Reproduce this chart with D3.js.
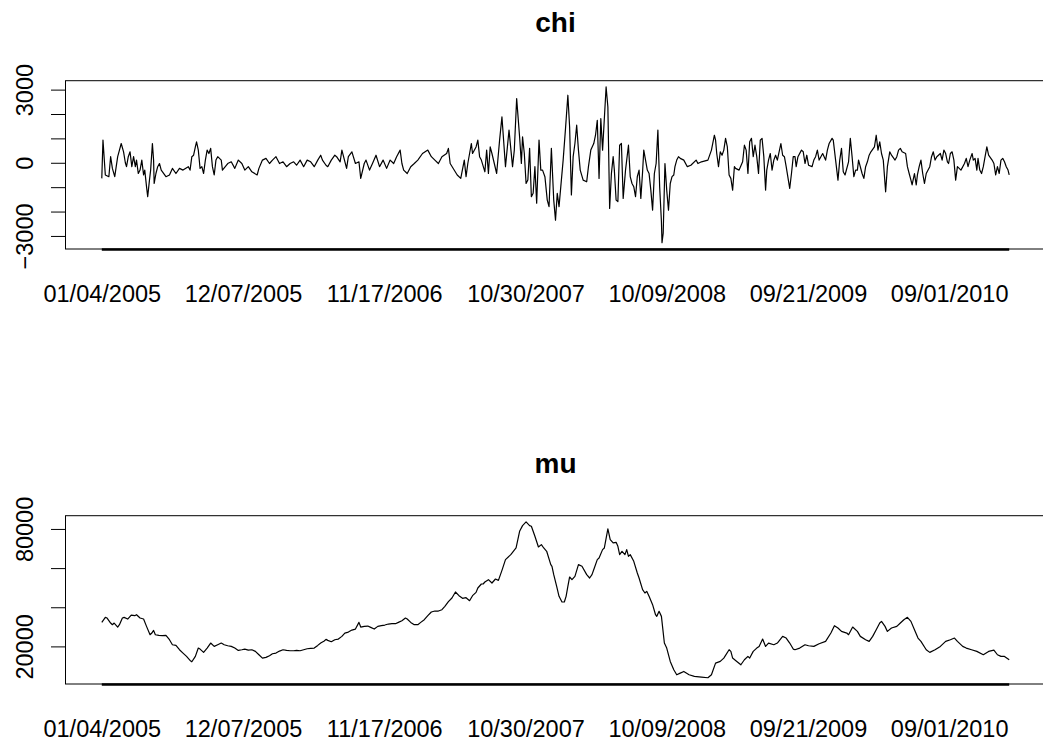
<!DOCTYPE html>
<html><head><meta charset="utf-8">
<script src="https://cdn.jsdelivr.net/npm/d3@7"></script>
<style>
body{margin:0;background:#fff}
svg{display:block}
text{font-family:"Liberation Sans",Arial,Helvetica,sans-serif;fill:#000}
</style>
</head><body>
<svg id="chart" width="1043" height="744"></svg>
<script>
// ---------- data ----------
const nObs = 1543;
const xTickObs = [1, 241, 481, 721, 961, 1201, 1441];
const xTickLabels = ["01/04/2005","12/07/2005","11/17/2006","10/30/2007","10/09/2008","09/21/2009","09/01/2010"];

const chiTicks = [-3000,-2000,-1000,0,1000,2000,3000];
const chiTickLabels = ["\u22123000","","","0","","","3000"];
const muTicks = [20000,40000,60000,80000];
const muTickLabels = ["20000","","","80000"];

const chiObs = [1,3,7,13,16,19,23,28,31,34,38,41,43,46,49,52,55,58,60,63,66,69,72,74,77,79,82,84,87,89,90,93,96,99,102,110,116,121,127,133,139,148,151,154,157,160,162,165,168,171,174,177,180,183,186,189,192,195,198,204,206,215,221,227,233,239,244,250,256,265,268,274,280,286,291,297,303,309,315,321,327,332,338,344,350,356,362,368,373,376,382,385,391,397,400,406,409,417,420,426,432,438,441,447,450,456,461,467,473,479,485,491,497,502,508,511,514,520,526,532,538,546,555,561,567,573,579,587,590,593,605,611,617,620,623,626,629,631,637,640,643,646,652,655,658,661,664,672,677,
681,687,693,699,702,706,711,714,716,719,722,725,728,731,734,737,740,744,747,750,754,758,761,765,769,772,775,778,781,785,789,793,796,799,802,805,808,811,814,819,825,828,832,837,840,843,846,849,852,855,858,861,864,867,870,872,875,878,881,884,887,891,896,899,902,905,908,911,914,917,920,922,925,928,931,934,937,940,943,946,949,952,953,955,958,961,964,967,970,973,975,978,981,984,990,996,1002,1011,1014,1020,1031,1037,1042,1044,1046,1049,1052,1055,1058,1061,1064,1067,1070,1073,1076,1078,1084,1090,1093,1096,1099,1102,1105,1108,1111,1114,1117,1120,1123,1126,1129,1131,1134,1137,1140,1143,1146,1149,1152,1155,1158,1161,1164,1170,1173,1176,1179,1181,1184,1190,1193,1196,1199,1202,1208,1211,1214,1217,1220,1223,1226,1231,1234,1237,1242,1244,1248,1252,1255,1258,1261,1264,1270,1273,1276,1279,1282,1285,1287,1293,1296,1299,1302,1305,1308,1314,1317,1320,1323,1326,1329,1333,1336,1340,1343,1349,1352,1355,1358,1361,1367,1370,1373,1376,1378,1382,1385,1387,1390,1393,1396,1399,1402,1408,1411,1414,1417,1420,1426,1429,1432,1435,1438,1440,1443,1446,1449,1452,1455,1461,1467,1470,1473,1476,1480,1482,1485,1488,1490,1493,1496,1499,1502,1505,1508,1514,1517,1520,1523,1526,1529,1532,1535,1538,1541,1543];
const chiVal = [-640,930,-500,-570,250,-230,-570,250,520,790,450,0,-160,250,450,-160,250,-160,110,-440,-300,110,-500,-300,-980,-1390,-710,-300,790,110,-850,-440,-160,-30,-300,-570,-500,-230,-440,-230,-300,-160,-300,250,310,650,860,520,-230,-160,-440,110,520,380,590,-160,-500,110,250,110,-300,-30,40,-230,110,-30,-300,-160,-370,-500,-230,110,180,-30,110,250,-30,40,-160,-30,40,-100,110,-160,110,40,-160,110,310,110,-100,-160,110,310,250,40,520,-230,250,450,-30,40,-640,-30,110,-300,-30,310,-160,110,-230,110,-30,250,520,-30,-300,-440,-160,-30,110,380,520,250,110,-30,250,380,590,-30,-500,-640,110,-570,-30,380,790,380,650,930,250,110,-370,520,-440,650,380,-440,930,
1880,-160,1340,-160,520,2630,1060,-30,1060,380,-850,-710,590,-1390,-1250,-160,-1660,930,-300,-300,-570,-1530,-1800,590,-1530,-2350,-1250,-1800,-980,110,1400,2770,1470,-1320,250,790,1540,520,-300,-710,-780,-160,520,790,1130,1740,-640,1810,520,1810,3110,2290,-1870,-440,250,-300,-1530,-1590,720,790,-1460,-300,720,-570,-850,-980,-1390,-570,-300,-1460,-370,520,110,-300,-440,-1120,-1940,-440,-30,1340,-980,-2410,-3280,-2890,-30,-1120,-1940,-850,-570,-500,-160,110,250,180,110,-160,-100,110,-30,40,110,520,1130,930,380,-160,450,310,520,1000,650,-500,-640,-1120,-160,-230,-300,40,720,520,-440,860,1000,250,720,250,-440,930,1000,250,-1120,-300,110,380,-300,110,310,110,450,790,310,250,-160,-1050,-440,250,250,-160,250,520,450,-30,310,-100,-160,110,250,520,110,250,380,110,520,790,1000,930,110,-710,110,590,-370,-500,40,1000,250,-570,-300,-300,110,-440,-640,-160,40,310,450,650,1130,520,860,380,110,-1190,-160,450,310,110,250,520,590,450,380,-160,-440,-710,-910,-440,-910,-500,-160,110,-440,-850,-440,-160,250,450,110,250,380,110,520,380,40,-30,380,450,110,-710,-160,-300,-30,180,-160,110,380,110,180,-300,180,-300,-440,-160,250,650,310,110,-30,-500,-160,-440,110,180,40,-160,-300,-500];

const muObs = [1,7,10,16,19,22,28,31,36,39,45,51,57,60,66,72,77,83,86,89,92,98,104,110,116,121,127,133,139,145,151,154,160,165,168,174,180,186,192,198,204,209,215,221,227,233,239,244,250,256,262,268,274,280,286,291,297,303,309,315,321,327,332,338,344,350,356,362,368,373,379,382,385,391,397,403,409,414,420,426,432,438,441,447,453,458,464,470,476,482,488,494,500,505,511,517,520,526,532,538,543,549,555,561,567,573,579,584,590,596,602,608,614,620,626,631,637,640,646,649,652,658,664,670,675,681,
687,696,705,711,716,722,728,731,737,743,748,752,757,764,766,769,774,778,783,787,790,793,796,800,805,811,817,825,830,834,838,843,846,852,855,861,865,870,875,878,881,885,890,893,896,899,905,911,914,920,924,927,931,937,942,944,948,952,957,961,967,973,978,984,990,999,1008,1020,1031,1037,1044,1052,1058,1067,1070,1073,1078,1087,1093,1099,1102,1108,1114,1118,1124,1129,1134,1143,1149,1158,1164,1170,1176,1179,1187,1196,1202,1211,1220,1231,1240,1246,1252,1258,1267,1270,1277,1285,1290,1299,1305,1311,1317,1323,1326,1332,1336,1343,1352,1358,1364,1370,1376,1382,1388,1393,1402,1408,1417,1426,1435,1443,1450,1455,1464,1470,1479,1488,1499,1508,1517,1523,1529,1535,1543];
const muVal = [32270,34830,34490,31930,31080,31930,29880,31080,34490,34830,33980,36020,35680,36190,34490,33980,30230,25970,26820,28180,25970,25630,25460,25630,23410,20850,20510,18300,16590,14890,12840,12160,14890,19150,18640,16930,19150,21710,20000,20850,21710,20850,20340,20000,19150,17960,18300,18640,18130,18300,17450,15740,14040,14380,15230,16250,16590,17620,18300,17960,17790,17790,17960,17790,18300,18810,18980,19150,20510,21710,22730,23580,23070,22390,23410,23750,25120,26820,27330,28350,28860,32270,29880,30230,30400,29720,28860,30230,30570,30910,31420,31590,31590,32270,33130,34490,33980,32270,31080,31080,32270,33640,35680,37560,38070,38070,38750,40460,42840,44720,47790,45910,44550,44890,43350,45910,47610,49830,51870,51870,52900,54090,52390,54430,53750,58860,
64320,66880,70280,78810,81700,83580,81700,81360,76250,70790,71990,70280,68580,61760,60910,56650,50680,45570,42670,42670,45570,50680,55460,54090,55800,61760,60910,56650,54940,56650,60060,64320,65170,69430,70280,80000,74540,72840,73180,71140,66880,68580,66880,69430,66020,66880,63470,57500,54940,48980,47270,48130,45570,41310,36190,35340,37900,35340,21710,19150,12330,8070,5510,6370,7220,5510,4660,4320,3980,5510,11480,12330,14040,18300,17450,14040,12840,10630,13180,14890,14040,17450,19150,20000,23750,20000,21710,20850,21710,25120,24270,21710,18640,18300,19150,20850,20340,20000,21370,22560,26820,30570,29370,27670,26820,25970,29890,27670,25120,23410,22560,25120,28520,31930,32780,30230,27670,29380,30230,31930,33640,34830,32790,28520,24270,22560,18300,16940,18300,20000,22560,23410,24270,22560,20000,19150,18300,17450,15740,17450,18070,15740,14890,14890,13180];

// ---------- layout ----------
const plotLeft = 65.5, plotRight = 1045.5;
const boxH = 168.3;
const panels = [
  {title:"chi", top:80.7, titleY:32, obs:chiObs, val:chiVal, ticks:chiTicks, labels:chiTickLabels},
  {title:"mu",  top:515.7, titleY:473, obs:muObs, val:muVal, ticks:muTicks, labels:muTickLabels}
];

const svg = d3.select("#chart");
const pad = 0.04*(nObs-1);
const x = d3.scaleLinear().domain([1-pad, nObs+pad]).range([plotLeft, plotRight]);

panels.forEach(p => {
  const g = svg.append("g");
  const top = p.top, bottom = p.top + boxH;
  const ext = d3.extent(p.val);
  const yp = 0.04*(ext[1]-ext[0]);
  const y = d3.scaleLinear().domain([ext[0]-yp, ext[1]+yp]).range([bottom, top]);

  // box
  g.append("rect").attr("x", plotLeft).attr("y", top)
    .attr("width", plotRight-plotLeft).attr("height", boxH)
    .attr("fill","none").attr("stroke","#000").attr("stroke-width",1);

  // series
  const pts = p.obs.map((o,i)=>[o,p.val[i]]);
  g.append("path").datum(pts)
    .attr("d", d3.line().x(d=>x(d[0])).y(d=>y(d[1])))
    .attr("fill","none").attr("stroke","#000").attr("stroke-width",1.2)
    .attr("stroke-linejoin","round");

  // y axis
  const ya = d3.axisLeft(y).tickValues(p.ticks).tickSize(14.5).tickPadding(0)
    .tickFormat((d,i)=>p.labels[i]);
  const ag = g.append("g").attr("transform",`translate(${plotLeft},0)`).call(ya);
  ag.select(".domain").remove();
  ag.selectAll(".tick line").attr("stroke","#000").attr("stroke-width",1);
  ag.selectAll(".tick text")
    .attr("x",null).attr("dy",null)
    .attr("transform","translate(-32.5,0) rotate(-90)")
    .attr("text-anchor","middle")
    .attr("font-size","23.5px")
    .attr("font-family","'Liberation Sans',Arial,sans-serif");

  // x axis (line over data range, labels below)
  const xa = d3.axisBottom(x).tickValues(xTickObs).tickSize(0).tickPadding(0)
    .tickFormat((d,i)=>xTickLabels[i]);
  const xg = g.append("g").attr("transform",`translate(0,${bottom})`).call(xa);
  xg.select(".domain").remove();
  xg.append("line").attr("x1", x(1)).attr("x2", x(nObs)).attr("y1",0.5).attr("y2",0.5)
    .attr("stroke","#000").attr("stroke-width",2.4);
  xg.selectAll(".tick text")
    .attr("y", 52.5).attr("dy", null)
    .attr("font-size","23.5px")
    .attr("font-family","'Liberation Sans',Arial,sans-serif");

  // title
  g.append("text").attr("x",(plotLeft+plotRight)/2).attr("y", p.titleY)
    .attr("text-anchor","middle").attr("font-weight","bold").attr("font-size","28px")
    .text(p.title);
});
</script>
</body></html>
